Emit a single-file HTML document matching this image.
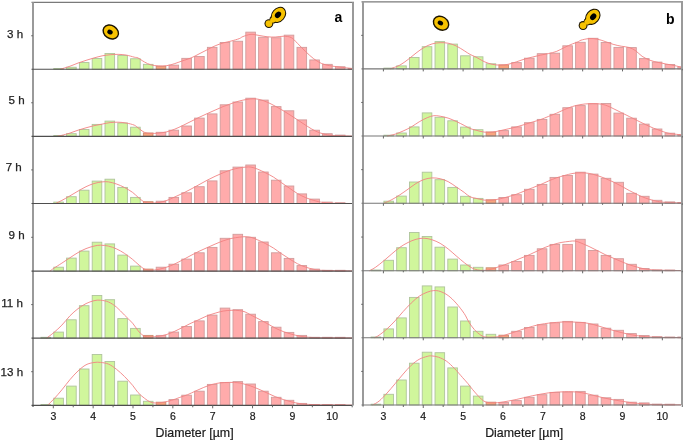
<!DOCTYPE html>
<html><head><meta charset="utf-8"><style>
html,body{margin:0;padding:0;background:#fff;}
body{width:685px;height:442px;overflow:hidden;font-family:"Liberation Sans",sans-serif;}
svg{display:block;will-change:transform;}
</style></head><body>
<svg width="685" height="442" viewBox="0 0 685 442">
<defs><clipPath id="cL"><rect x="34" y="0" width="318" height="442"/></clipPath><clipPath id="cR"><rect x="364" y="0" width="317" height="442"/></clipPath></defs>
<rect width="685" height="442" fill="#fff"/>
<line x1="31.5" y1="2.3" x2="354" y2="2.3" stroke="#7a7a7a" stroke-width="1.3"/>
<line x1="33" y1="2.3" x2="33" y2="407" stroke="#9a9a9a" stroke-width="2"/>
<line x1="353" y1="2.3" x2="353" y2="405.5" stroke="#9a9a9a" stroke-width="2"/>
<line x1="361.5" y1="1.8" x2="683" y2="1.8" stroke="#7a7a7a" stroke-width="1.3"/>
<line x1="363" y1="1.8" x2="363" y2="406.5" stroke="#9a9a9a" stroke-width="2"/>
<line x1="682" y1="1.8" x2="682" y2="405.0" stroke="#9a9a9a" stroke-width="2"/>
<rect x="53.80" y="68.45" width="9.60" height="0.80" fill="#d0f69c" stroke="#afc49c" stroke-width="0.9"/>
<rect x="66.60" y="67.25" width="9.60" height="2.00" fill="#d0f69c" stroke="#afc49c" stroke-width="0.9"/>
<rect x="79.40" y="62.55" width="9.60" height="6.70" fill="#d0f69c" stroke="#afc49c" stroke-width="0.9"/>
<rect x="92.20" y="58.55" width="9.60" height="10.70" fill="#d0f69c" stroke="#afc49c" stroke-width="0.9"/>
<rect x="105.00" y="53.45" width="9.60" height="15.80" fill="#d0f69c" stroke="#afc49c" stroke-width="0.9"/>
<rect x="117.80" y="55.55" width="9.60" height="13.70" fill="#d0f69c" stroke="#afc49c" stroke-width="0.9"/>
<rect x="130.60" y="58.75" width="9.60" height="10.50" fill="#d0f69c" stroke="#afc49c" stroke-width="0.9"/>
<rect x="143.40" y="64.35" width="9.60" height="4.90" fill="#d0f69c" stroke="#afc49c" stroke-width="0.9"/>
<rect x="156.20" y="66.25" width="9.60" height="3.00" fill="#f9a47e" stroke="#cc8c70" stroke-width="0.9"/>
<rect x="169.00" y="65.15" width="9.60" height="4.10" fill="#ffabab" stroke="#d29c9c" stroke-width="0.9"/>
<rect x="181.80" y="58.35" width="9.60" height="10.90" fill="#ffabab" stroke="#d29c9c" stroke-width="0.9"/>
<rect x="194.60" y="56.45" width="9.60" height="12.80" fill="#ffabab" stroke="#d29c9c" stroke-width="0.9"/>
<rect x="207.40" y="47.35" width="9.60" height="21.90" fill="#ffabab" stroke="#d29c9c" stroke-width="0.9"/>
<rect x="220.20" y="42.45" width="9.60" height="26.80" fill="#ffabab" stroke="#d29c9c" stroke-width="0.9"/>
<rect x="233.00" y="41.25" width="9.60" height="28.00" fill="#ffabab" stroke="#d29c9c" stroke-width="0.9"/>
<rect x="245.80" y="32.15" width="9.60" height="37.10" fill="#ffabab" stroke="#d29c9c" stroke-width="0.9"/>
<rect x="258.60" y="37.25" width="9.60" height="32.00" fill="#ffabab" stroke="#d29c9c" stroke-width="0.9"/>
<rect x="271.40" y="37.75" width="9.60" height="31.50" fill="#ffabab" stroke="#d29c9c" stroke-width="0.9"/>
<rect x="284.20" y="35.15" width="9.60" height="34.10" fill="#ffabab" stroke="#d29c9c" stroke-width="0.9"/>
<rect x="297.00" y="47.35" width="9.60" height="21.90" fill="#ffabab" stroke="#d29c9c" stroke-width="0.9"/>
<rect x="309.80" y="59.95" width="9.60" height="9.30" fill="#ffabab" stroke="#d29c9c" stroke-width="0.9"/>
<rect x="322.60" y="64.35" width="9.60" height="4.90" fill="#ffabab" stroke="#d29c9c" stroke-width="0.9"/>
<rect x="335.40" y="66.75" width="9.60" height="2.50" fill="#ffabab" stroke="#d29c9c" stroke-width="0.9"/>
<rect x="348.20" y="68.35" width="3.30" height="0.90" fill="#ffabab" stroke="#d29c9c" stroke-width="0.9"/>
<path d="M60.30,69.25 C61.90,68.75 66.95,67.28 69.90,66.25 C72.85,65.22 75.32,64.03 78.00,63.05 C80.68,62.07 83.33,61.20 86.00,60.35 C88.67,59.50 91.32,58.70 94.00,57.95 C96.68,57.20 99.42,56.38 102.10,55.85 C104.78,55.32 107.43,55.00 110.10,54.75 C112.77,54.50 115.43,54.30 118.10,54.35 C120.77,54.40 123.42,54.58 126.10,55.05 C128.78,55.52 132.22,56.67 134.20,57.15 C136.18,57.63 136.30,57.15 138.00,57.95 C139.70,58.75 142.27,60.80 144.40,61.95 C146.53,63.10 148.38,64.18 150.80,64.85 C153.22,65.52 156.22,65.82 158.90,65.95 C161.58,66.08 164.23,66.05 166.90,65.65 C169.57,65.25 172.22,64.38 174.90,63.55 C177.58,62.72 180.32,61.58 183.00,60.65 C185.68,59.72 188.33,59.07 191.00,57.95 C193.67,56.83 196.33,55.30 199.00,53.95 C201.67,52.60 204.32,51.20 207.00,49.85 C209.68,48.50 212.42,47.00 215.10,45.85 C217.78,44.70 220.43,43.75 223.10,42.95 C225.77,42.15 228.42,41.77 231.10,41.05 C233.78,40.33 237.22,39.40 239.20,38.65 C241.18,37.90 241.03,37.27 243.00,36.55 C244.97,35.83 248.32,34.53 251.00,34.35 C253.68,34.17 256.42,35.05 259.10,35.45 C261.78,35.85 264.43,36.48 267.10,36.75 C269.77,37.02 272.43,37.13 275.10,37.05 C277.77,36.97 280.42,36.17 283.10,36.25 C285.78,36.33 288.78,36.35 291.20,37.55 C293.62,38.75 295.20,41.12 297.60,43.45 C300.00,45.78 302.92,49.00 305.60,51.55 C308.28,54.10 311.02,56.75 313.70,58.75 C316.38,60.75 319.03,62.40 321.70,63.55 C324.37,64.70 326.75,65.07 329.70,65.65 C332.65,66.23 335.52,66.55 339.40,67.05 C343.28,67.55 350.73,68.38 353.00,68.65" fill="none" stroke="#f28282" stroke-width="0.9" clip-path="url(#cL)"/>
<line x1="31.5" y1="69.25" x2="352" y2="69.25" stroke="#4e4e4e" stroke-width="1.2"/>
<line x1="31.2" y1="35.77" x2="33" y2="35.77" stroke="#666" stroke-width="1"/>
<rect x="53.80" y="135.50" width="9.60" height="0.80" fill="#d0f69c" stroke="#afc49c" stroke-width="0.9"/>
<rect x="66.60" y="133.70" width="9.60" height="2.60" fill="#d0f69c" stroke="#afc49c" stroke-width="0.9"/>
<rect x="79.40" y="129.50" width="9.60" height="6.80" fill="#d0f69c" stroke="#afc49c" stroke-width="0.9"/>
<rect x="92.20" y="124.40" width="9.60" height="11.90" fill="#d0f69c" stroke="#afc49c" stroke-width="0.9"/>
<rect x="105.00" y="121.10" width="9.60" height="15.20" fill="#d0f69c" stroke="#afc49c" stroke-width="0.9"/>
<rect x="117.80" y="123.00" width="9.60" height="13.30" fill="#d0f69c" stroke="#afc49c" stroke-width="0.9"/>
<rect x="130.60" y="127.20" width="9.60" height="9.10" fill="#d0f69c" stroke="#afc49c" stroke-width="0.9"/>
<rect x="143.40" y="133.00" width="9.60" height="3.30" fill="#f9a47e" stroke="#cc8c70" stroke-width="0.9"/>
<rect x="156.20" y="132.30" width="9.60" height="4.00" fill="#ffabab" stroke="#d29c9c" stroke-width="0.9"/>
<rect x="169.00" y="130.20" width="9.60" height="6.10" fill="#ffabab" stroke="#d29c9c" stroke-width="0.9"/>
<rect x="181.80" y="126.00" width="9.60" height="10.30" fill="#ffabab" stroke="#d29c9c" stroke-width="0.9"/>
<rect x="194.60" y="118.10" width="9.60" height="18.20" fill="#ffabab" stroke="#d29c9c" stroke-width="0.9"/>
<rect x="207.40" y="113.90" width="9.60" height="22.40" fill="#ffabab" stroke="#d29c9c" stroke-width="0.9"/>
<rect x="220.20" y="104.80" width="9.60" height="31.50" fill="#ffabab" stroke="#d29c9c" stroke-width="0.9"/>
<rect x="233.00" y="102.00" width="9.60" height="34.30" fill="#ffabab" stroke="#d29c9c" stroke-width="0.9"/>
<rect x="245.80" y="98.20" width="9.60" height="38.10" fill="#ffabab" stroke="#d29c9c" stroke-width="0.9"/>
<rect x="258.60" y="100.10" width="9.60" height="36.20" fill="#ffabab" stroke="#d29c9c" stroke-width="0.9"/>
<rect x="271.40" y="106.60" width="9.60" height="29.70" fill="#ffabab" stroke="#d29c9c" stroke-width="0.9"/>
<rect x="284.20" y="110.80" width="9.60" height="25.50" fill="#ffabab" stroke="#d29c9c" stroke-width="0.9"/>
<rect x="297.00" y="119.90" width="9.60" height="16.40" fill="#ffabab" stroke="#d29c9c" stroke-width="0.9"/>
<rect x="309.80" y="130.20" width="9.60" height="6.10" fill="#ffabab" stroke="#d29c9c" stroke-width="0.9"/>
<rect x="322.60" y="133.70" width="9.60" height="2.60" fill="#ffabab" stroke="#d29c9c" stroke-width="0.9"/>
<rect x="335.40" y="135.10" width="9.60" height="1.20" fill="#ffabab" stroke="#d29c9c" stroke-width="0.9"/>
<path d="M57.10,136.30 C57.90,136.13 59.77,135.83 61.90,135.30 C64.03,134.77 67.22,133.95 69.90,133.10 C72.58,132.25 75.32,131.08 78.00,130.20 C80.68,129.32 83.33,128.55 86.00,127.80 C88.67,127.05 91.32,126.32 94.00,125.70 C96.68,125.08 99.42,124.62 102.10,124.10 C104.78,123.58 107.43,122.92 110.10,122.60 C112.77,122.28 115.43,122.13 118.10,122.20 C120.77,122.27 123.42,122.52 126.10,123.00 C128.78,123.48 132.22,124.30 134.20,125.10 C136.18,125.90 136.30,126.60 138.00,127.80 C139.70,129.00 142.27,131.37 144.40,132.30 C146.53,133.23 148.38,133.27 150.80,133.40 C153.22,133.53 156.22,133.37 158.90,133.10 C161.58,132.83 164.23,132.47 166.90,131.80 C169.57,131.13 172.22,130.17 174.90,129.10 C177.58,128.03 180.32,126.68 183.00,125.40 C185.68,124.12 188.33,122.73 191.00,121.40 C193.67,120.07 196.33,118.68 199.00,117.40 C201.67,116.12 204.32,114.92 207.00,113.70 C209.68,112.48 212.42,111.28 215.10,110.10 C217.78,108.92 220.43,107.67 223.10,106.60 C225.77,105.53 228.42,104.63 231.10,103.70 C233.78,102.77 236.55,101.72 239.20,101.00 C241.85,100.28 244.70,99.77 247.00,99.40 C249.30,99.03 250.98,98.80 253.00,98.80 C255.02,98.80 256.75,98.85 259.10,99.40 C261.45,99.95 264.43,100.98 267.10,102.10 C269.77,103.22 272.43,104.68 275.10,106.10 C277.77,107.52 280.42,109.00 283.10,110.60 C285.78,112.20 288.52,113.97 291.20,115.70 C293.88,117.43 296.53,119.25 299.20,121.00 C301.87,122.75 304.52,124.53 307.20,126.20 C309.88,127.87 312.62,129.72 315.30,131.00 C317.98,132.28 320.37,133.15 323.30,133.90 C326.23,134.65 327.95,135.13 332.90,135.50 C337.85,135.87 349.65,136.00 353.00,136.10" fill="none" stroke="#f28282" stroke-width="0.9" clip-path="url(#cL)"/>
<line x1="31.5" y1="136.3" x2="352" y2="136.3" stroke="#4e4e4e" stroke-width="1.2"/>
<line x1="31.2" y1="102.78" x2="33" y2="102.78" stroke="#666" stroke-width="1"/>
<rect x="53.80" y="202.10" width="9.60" height="1.40" fill="#d0f69c" stroke="#afc49c" stroke-width="0.9"/>
<rect x="66.60" y="196.70" width="9.60" height="6.80" fill="#d0f69c" stroke="#afc49c" stroke-width="0.9"/>
<rect x="79.40" y="190.20" width="9.60" height="13.30" fill="#d0f69c" stroke="#afc49c" stroke-width="0.9"/>
<rect x="92.20" y="181.10" width="9.60" height="22.40" fill="#d0f69c" stroke="#afc49c" stroke-width="0.9"/>
<rect x="105.00" y="179.20" width="9.60" height="24.30" fill="#d0f69c" stroke="#afc49c" stroke-width="0.9"/>
<rect x="117.80" y="187.40" width="9.60" height="16.10" fill="#d0f69c" stroke="#afc49c" stroke-width="0.9"/>
<rect x="130.60" y="197.40" width="9.60" height="6.10" fill="#d0f69c" stroke="#afc49c" stroke-width="0.9"/>
<rect x="143.40" y="201.70" width="9.60" height="1.80" fill="#f9a47e" stroke="#cc8c70" stroke-width="0.9"/>
<rect x="156.20" y="201.20" width="9.60" height="2.30" fill="#ffabab" stroke="#d29c9c" stroke-width="0.9"/>
<rect x="169.00" y="197.40" width="9.60" height="6.10" fill="#ffabab" stroke="#d29c9c" stroke-width="0.9"/>
<rect x="181.80" y="192.80" width="9.60" height="10.70" fill="#ffabab" stroke="#d29c9c" stroke-width="0.9"/>
<rect x="194.60" y="186.70" width="9.60" height="16.80" fill="#ffabab" stroke="#d29c9c" stroke-width="0.9"/>
<rect x="207.40" y="180.90" width="9.60" height="22.60" fill="#ffabab" stroke="#d29c9c" stroke-width="0.9"/>
<rect x="220.20" y="170.80" width="9.60" height="32.70" fill="#ffabab" stroke="#d29c9c" stroke-width="0.9"/>
<rect x="233.00" y="167.10" width="9.60" height="36.40" fill="#ffabab" stroke="#d29c9c" stroke-width="0.9"/>
<rect x="245.80" y="165.00" width="9.60" height="38.50" fill="#ffabab" stroke="#d29c9c" stroke-width="0.9"/>
<rect x="258.60" y="172.00" width="9.60" height="31.50" fill="#ffabab" stroke="#d29c9c" stroke-width="0.9"/>
<rect x="271.40" y="180.20" width="9.60" height="23.30" fill="#ffabab" stroke="#d29c9c" stroke-width="0.9"/>
<rect x="284.20" y="186.00" width="9.60" height="17.50" fill="#ffabab" stroke="#d29c9c" stroke-width="0.9"/>
<rect x="297.00" y="193.90" width="9.60" height="9.60" fill="#ffabab" stroke="#d29c9c" stroke-width="0.9"/>
<rect x="309.80" y="199.10" width="9.60" height="4.40" fill="#ffabab" stroke="#d29c9c" stroke-width="0.9"/>
<rect x="322.60" y="202.10" width="9.60" height="1.40" fill="#ffabab" stroke="#d29c9c" stroke-width="0.9"/>
<rect x="335.40" y="202.70" width="9.60" height="0.80" fill="#ffabab" stroke="#d29c9c" stroke-width="0.9"/>
<path d="M55.50,203.50 C56.57,202.98 59.50,201.67 61.90,200.40 C64.30,199.13 67.22,197.45 69.90,195.90 C72.58,194.35 75.32,192.63 78.00,191.10 C80.68,189.57 83.33,187.97 86.00,186.70 C88.67,185.43 91.32,184.30 94.00,183.50 C96.68,182.70 99.68,182.17 102.10,181.90 C104.52,181.63 106.10,181.55 108.50,181.90 C110.90,182.25 113.83,183.07 116.50,184.00 C119.17,184.93 121.82,186.10 124.50,187.50 C127.18,188.90 130.35,190.78 132.60,192.40 C134.85,194.02 136.03,195.60 138.00,197.20 C139.97,198.80 142.27,201.02 144.40,202.00 C146.53,202.98 148.38,203.02 150.80,203.10 C153.22,203.18 156.22,202.95 158.90,202.50 C161.58,202.05 164.23,201.33 166.90,200.40 C169.57,199.47 172.22,198.10 174.90,196.90 C177.58,195.70 180.32,194.50 183.00,193.20 C185.68,191.90 188.33,190.52 191.00,189.10 C193.67,187.68 196.33,186.17 199.00,184.70 C201.67,183.23 204.32,181.70 207.00,180.30 C209.68,178.90 212.42,177.55 215.10,176.30 C217.78,175.05 220.43,173.87 223.10,172.80 C225.77,171.73 228.42,170.72 231.10,169.90 C233.78,169.08 236.72,168.37 239.20,167.90 C241.68,167.43 244.03,167.23 246.00,167.10 C247.97,166.97 249.08,166.77 251.00,167.10 C252.92,167.43 255.08,168.15 257.50,169.10 C259.92,170.05 262.83,171.47 265.50,172.80 C268.17,174.13 270.83,175.45 273.50,177.10 C276.17,178.75 278.82,180.83 281.50,182.70 C284.18,184.57 286.92,186.48 289.60,188.30 C292.28,190.12 294.93,192.05 297.60,193.60 C300.27,195.15 302.92,196.47 305.60,197.60 C308.28,198.73 310.75,199.58 313.70,200.40 C316.65,201.22 319.57,202.02 323.30,202.50 C327.03,202.98 331.15,203.13 336.10,203.30 C341.05,203.47 350.18,203.47 353.00,203.50" fill="none" stroke="#f28282" stroke-width="0.9" clip-path="url(#cL)"/>
<line x1="31.5" y1="203.5" x2="352" y2="203.5" stroke="#4e4e4e" stroke-width="1.2"/>
<line x1="31.2" y1="169.90" x2="33" y2="169.90" stroke="#666" stroke-width="1"/>
<rect x="53.80" y="267.20" width="9.60" height="3.90" fill="#d0f69c" stroke="#afc49c" stroke-width="0.9"/>
<rect x="66.60" y="258.10" width="9.60" height="13.00" fill="#d0f69c" stroke="#afc49c" stroke-width="0.9"/>
<rect x="79.40" y="251.10" width="9.60" height="20.00" fill="#d0f69c" stroke="#afc49c" stroke-width="0.9"/>
<rect x="92.20" y="242.20" width="9.60" height="28.90" fill="#d0f69c" stroke="#afc49c" stroke-width="0.9"/>
<rect x="105.00" y="243.90" width="9.60" height="27.20" fill="#d0f69c" stroke="#afc49c" stroke-width="0.9"/>
<rect x="117.80" y="255.10" width="9.60" height="16.00" fill="#d0f69c" stroke="#afc49c" stroke-width="0.9"/>
<rect x="130.60" y="266.10" width="9.60" height="5.00" fill="#d0f69c" stroke="#afc49c" stroke-width="0.9"/>
<rect x="143.40" y="269.10" width="9.60" height="2.00" fill="#f9a47e" stroke="#cc8c70" stroke-width="0.9"/>
<rect x="156.20" y="267.20" width="9.60" height="3.90" fill="#ffabab" stroke="#d29c9c" stroke-width="0.9"/>
<rect x="169.00" y="264.20" width="9.60" height="6.90" fill="#ffabab" stroke="#d29c9c" stroke-width="0.9"/>
<rect x="181.80" y="259.10" width="9.60" height="12.00" fill="#ffabab" stroke="#d29c9c" stroke-width="0.9"/>
<rect x="194.60" y="252.80" width="9.60" height="18.30" fill="#ffabab" stroke="#d29c9c" stroke-width="0.9"/>
<rect x="207.40" y="247.40" width="9.60" height="23.70" fill="#ffabab" stroke="#d29c9c" stroke-width="0.9"/>
<rect x="220.20" y="238.30" width="9.60" height="32.80" fill="#ffabab" stroke="#d29c9c" stroke-width="0.9"/>
<rect x="233.00" y="234.30" width="9.60" height="36.80" fill="#ffabab" stroke="#d29c9c" stroke-width="0.9"/>
<rect x="245.80" y="237.30" width="9.60" height="33.80" fill="#ffabab" stroke="#d29c9c" stroke-width="0.9"/>
<rect x="258.60" y="242.00" width="9.60" height="29.10" fill="#ffabab" stroke="#d29c9c" stroke-width="0.9"/>
<rect x="271.40" y="252.80" width="9.60" height="18.30" fill="#ffabab" stroke="#d29c9c" stroke-width="0.9"/>
<rect x="284.20" y="258.40" width="9.60" height="12.70" fill="#ffabab" stroke="#d29c9c" stroke-width="0.9"/>
<rect x="297.00" y="265.60" width="9.60" height="5.50" fill="#ffabab" stroke="#d29c9c" stroke-width="0.9"/>
<rect x="309.80" y="269.10" width="9.60" height="2.00" fill="#ffabab" stroke="#d29c9c" stroke-width="0.9"/>
<rect x="322.60" y="270.30" width="9.60" height="0.80" fill="#ffabab" stroke="#d29c9c" stroke-width="0.9"/>
<rect x="335.40" y="270.30" width="9.60" height="0.80" fill="#ffabab" stroke="#d29c9c" stroke-width="0.9"/>
<path d="M49.90,271.10 C50.57,270.62 51.90,269.53 53.90,268.20 C55.90,266.87 59.23,264.83 61.90,263.10 C64.57,261.37 67.22,259.55 69.90,257.80 C72.58,256.05 75.32,254.13 78.00,252.60 C80.68,251.07 83.33,249.68 86.00,248.60 C88.67,247.52 91.60,246.67 94.00,246.10 C96.40,245.53 97.98,245.20 100.40,245.20 C102.82,245.20 105.82,245.48 108.50,246.10 C111.18,246.72 113.83,247.68 116.50,248.90 C119.17,250.12 121.82,251.65 124.50,253.40 C127.18,255.15 130.35,257.60 132.60,259.40 C134.85,261.20 136.03,262.60 138.00,264.20 C139.97,265.80 142.27,267.98 144.40,269.00 C146.53,270.02 148.38,270.25 150.80,270.30 C153.22,270.35 156.22,269.83 158.90,269.30 C161.58,268.77 164.23,268.00 166.90,267.10 C169.57,266.20 172.22,265.13 174.90,263.90 C177.58,262.67 180.32,261.12 183.00,259.70 C185.68,258.28 188.33,256.80 191.00,255.40 C193.67,254.00 196.33,252.58 199.00,251.30 C201.67,250.02 204.32,248.90 207.00,247.70 C209.68,246.50 212.42,245.23 215.10,244.10 C217.78,242.97 220.43,241.83 223.10,240.90 C225.77,239.97 228.42,239.12 231.10,238.50 C233.78,237.88 236.88,237.50 239.20,237.20 C241.52,236.90 243.03,236.68 245.00,236.70 C246.97,236.72 248.92,236.78 251.00,237.30 C253.08,237.82 255.08,238.75 257.50,239.80 C259.92,240.85 262.83,242.22 265.50,243.60 C268.17,244.98 270.83,246.42 273.50,248.10 C276.17,249.78 278.82,251.88 281.50,253.70 C284.18,255.52 286.92,257.32 289.60,259.00 C292.28,260.68 294.93,262.45 297.60,263.80 C300.27,265.15 302.92,266.18 305.60,267.10 C308.28,268.02 310.75,268.75 313.70,269.30 C316.65,269.85 316.75,270.13 323.30,270.40 C329.85,270.67 348.05,270.82 353.00,270.90" fill="none" stroke="#f28282" stroke-width="0.9" clip-path="url(#cL)"/>
<line x1="31.5" y1="271.1" x2="352" y2="271.1" stroke="#4e4e4e" stroke-width="1.2"/>
<line x1="31.2" y1="237.30" x2="33" y2="237.30" stroke="#666" stroke-width="1"/>
<rect x="41.00" y="337.30" width="9.60" height="0.80" fill="#d0f69c" stroke="#afc49c" stroke-width="0.9"/>
<rect x="53.80" y="332.10" width="9.60" height="6.00" fill="#d0f69c" stroke="#afc49c" stroke-width="0.9"/>
<rect x="66.60" y="319.80" width="9.60" height="18.30" fill="#d0f69c" stroke="#afc49c" stroke-width="0.9"/>
<rect x="79.40" y="305.70" width="9.60" height="32.40" fill="#d0f69c" stroke="#afc49c" stroke-width="0.9"/>
<rect x="92.20" y="295.50" width="9.60" height="42.60" fill="#d0f69c" stroke="#afc49c" stroke-width="0.9"/>
<rect x="105.00" y="299.70" width="9.60" height="38.40" fill="#d0f69c" stroke="#afc49c" stroke-width="0.9"/>
<rect x="117.80" y="318.60" width="9.60" height="19.50" fill="#d0f69c" stroke="#afc49c" stroke-width="0.9"/>
<rect x="130.60" y="328.40" width="9.60" height="9.70" fill="#d0f69c" stroke="#afc49c" stroke-width="0.9"/>
<rect x="143.40" y="335.40" width="9.60" height="2.70" fill="#f9a47e" stroke="#cc8c70" stroke-width="0.9"/>
<rect x="156.20" y="335.40" width="9.60" height="2.70" fill="#ffabab" stroke="#d29c9c" stroke-width="0.9"/>
<rect x="169.00" y="332.10" width="9.60" height="6.00" fill="#ffabab" stroke="#d29c9c" stroke-width="0.9"/>
<rect x="181.80" y="326.50" width="9.60" height="11.60" fill="#ffabab" stroke="#d29c9c" stroke-width="0.9"/>
<rect x="194.60" y="320.90" width="9.60" height="17.20" fill="#ffabab" stroke="#d29c9c" stroke-width="0.9"/>
<rect x="207.40" y="315.10" width="9.60" height="23.00" fill="#ffabab" stroke="#d29c9c" stroke-width="0.9"/>
<rect x="220.20" y="308.10" width="9.60" height="30.00" fill="#ffabab" stroke="#d29c9c" stroke-width="0.9"/>
<rect x="233.00" y="309.70" width="9.60" height="28.40" fill="#ffabab" stroke="#d29c9c" stroke-width="0.9"/>
<rect x="245.80" y="314.20" width="9.60" height="23.90" fill="#ffabab" stroke="#d29c9c" stroke-width="0.9"/>
<rect x="258.60" y="321.60" width="9.60" height="16.50" fill="#ffabab" stroke="#d29c9c" stroke-width="0.9"/>
<rect x="271.40" y="327.20" width="9.60" height="10.90" fill="#ffabab" stroke="#d29c9c" stroke-width="0.9"/>
<rect x="284.20" y="332.40" width="9.60" height="5.70" fill="#ffabab" stroke="#d29c9c" stroke-width="0.9"/>
<rect x="297.00" y="335.40" width="9.60" height="2.70" fill="#ffabab" stroke="#d29c9c" stroke-width="0.9"/>
<rect x="309.80" y="337.30" width="9.60" height="0.80" fill="#ffabab" stroke="#d29c9c" stroke-width="0.9"/>
<rect x="322.60" y="337.30" width="9.60" height="0.80" fill="#ffabab" stroke="#d29c9c" stroke-width="0.9"/>
<rect x="335.40" y="337.30" width="9.60" height="0.80" fill="#ffabab" stroke="#d29c9c" stroke-width="0.9"/>
<path d="M46.70,338.10 C47.90,337.17 51.37,334.67 53.90,332.50 C56.43,330.33 59.23,327.87 61.90,325.10 C64.57,322.33 67.22,318.63 69.90,315.90 C72.58,313.17 75.32,310.75 78.00,308.70 C80.68,306.65 83.33,304.93 86.00,303.60 C88.67,302.27 91.60,301.27 94.00,300.70 C96.40,300.13 97.98,299.98 100.40,300.20 C102.82,300.42 105.82,300.85 108.50,302.00 C111.18,303.15 113.83,304.92 116.50,307.10 C119.17,309.28 121.82,312.42 124.50,315.10 C127.18,317.78 130.35,320.62 132.60,323.20 C134.85,325.78 136.30,328.60 138.00,330.60 C139.70,332.60 141.20,334.17 142.80,335.20 C144.40,336.23 145.18,336.58 147.60,336.80 C150.02,337.02 154.08,336.90 157.30,336.50 C160.52,336.10 163.97,335.28 166.90,334.40 C169.83,333.52 172.22,332.40 174.90,331.20 C177.58,330.00 180.32,328.53 183.00,327.20 C185.68,325.87 188.33,324.47 191.00,323.20 C193.67,321.93 196.33,320.82 199.00,319.60 C201.67,318.38 204.32,316.97 207.00,315.90 C209.68,314.83 212.42,314.00 215.10,313.20 C217.78,312.40 220.43,311.58 223.10,311.10 C225.77,310.62 228.42,310.38 231.10,310.30 C233.78,310.22 236.88,310.33 239.20,310.60 C241.52,310.87 243.03,311.15 245.00,311.90 C246.97,312.65 248.65,313.88 251.00,315.10 C253.35,316.32 256.42,317.80 259.10,319.20 C261.78,320.60 264.43,322.03 267.10,323.50 C269.77,324.97 272.43,326.67 275.10,328.00 C277.77,329.33 280.42,330.48 283.10,331.50 C285.78,332.52 288.52,333.35 291.20,334.10 C293.88,334.85 296.53,335.50 299.20,336.00 C301.87,336.50 303.72,336.80 307.20,337.10 C310.68,337.40 312.47,337.67 320.10,337.80 C327.73,337.93 347.52,337.88 353.00,337.90" fill="none" stroke="#f28282" stroke-width="0.9" clip-path="url(#cL)"/>
<line x1="31.5" y1="338.1" x2="352" y2="338.1" stroke="#4e4e4e" stroke-width="1.2"/>
<line x1="31.2" y1="304.60" x2="33" y2="304.60" stroke="#666" stroke-width="1"/>
<rect x="41.00" y="404.50" width="9.60" height="0.80" fill="#d0f69c" stroke="#afc49c" stroke-width="0.9"/>
<rect x="53.80" y="398.20" width="9.60" height="7.10" fill="#d0f69c" stroke="#afc49c" stroke-width="0.9"/>
<rect x="66.60" y="386.10" width="9.60" height="19.20" fill="#d0f69c" stroke="#afc49c" stroke-width="0.9"/>
<rect x="79.40" y="369.00" width="9.60" height="36.30" fill="#d0f69c" stroke="#afc49c" stroke-width="0.9"/>
<rect x="92.20" y="354.50" width="9.60" height="50.80" fill="#d0f69c" stroke="#afc49c" stroke-width="0.9"/>
<rect x="105.00" y="361.50" width="9.60" height="43.80" fill="#d0f69c" stroke="#afc49c" stroke-width="0.9"/>
<rect x="117.80" y="381.20" width="9.60" height="24.10" fill="#d0f69c" stroke="#afc49c" stroke-width="0.9"/>
<rect x="130.60" y="395.00" width="9.60" height="10.30" fill="#d0f69c" stroke="#afc49c" stroke-width="0.9"/>
<rect x="143.40" y="401.30" width="9.60" height="4.00" fill="#d0f69c" stroke="#afc49c" stroke-width="0.9"/>
<rect x="156.20" y="402.20" width="9.60" height="3.10" fill="#f9a47e" stroke="#cc8c70" stroke-width="0.9"/>
<rect x="169.00" y="399.60" width="9.60" height="5.70" fill="#ffabab" stroke="#d29c9c" stroke-width="0.9"/>
<rect x="181.80" y="395.20" width="9.60" height="10.10" fill="#ffabab" stroke="#d29c9c" stroke-width="0.9"/>
<rect x="194.60" y="391.20" width="9.60" height="14.10" fill="#ffabab" stroke="#d29c9c" stroke-width="0.9"/>
<rect x="207.40" y="384.40" width="9.60" height="20.90" fill="#ffabab" stroke="#d29c9c" stroke-width="0.9"/>
<rect x="220.20" y="382.60" width="9.60" height="22.70" fill="#ffabab" stroke="#d29c9c" stroke-width="0.9"/>
<rect x="233.00" y="381.60" width="9.60" height="23.70" fill="#ffabab" stroke="#d29c9c" stroke-width="0.9"/>
<rect x="245.80" y="384.00" width="9.60" height="21.30" fill="#ffabab" stroke="#d29c9c" stroke-width="0.9"/>
<rect x="258.60" y="391.20" width="9.60" height="14.10" fill="#ffabab" stroke="#d29c9c" stroke-width="0.9"/>
<rect x="271.40" y="397.30" width="9.60" height="8.00" fill="#ffabab" stroke="#d29c9c" stroke-width="0.9"/>
<rect x="284.20" y="400.30" width="9.60" height="5.00" fill="#ffabab" stroke="#d29c9c" stroke-width="0.9"/>
<rect x="297.00" y="403.40" width="9.60" height="1.90" fill="#ffabab" stroke="#d29c9c" stroke-width="0.9"/>
<rect x="309.80" y="404.50" width="9.60" height="0.80" fill="#ffabab" stroke="#d29c9c" stroke-width="0.9"/>
<rect x="322.60" y="404.50" width="9.60" height="0.80" fill="#ffabab" stroke="#d29c9c" stroke-width="0.9"/>
<rect x="335.40" y="404.50" width="9.60" height="0.80" fill="#ffabab" stroke="#d29c9c" stroke-width="0.9"/>
<path d="M47.50,405.30 C48.57,404.25 51.50,401.58 53.90,399.00 C56.30,396.42 59.23,393.02 61.90,389.80 C64.57,386.58 67.22,382.83 69.90,379.70 C72.58,376.57 75.32,373.48 78.00,371.00 C80.68,368.52 83.33,366.22 86.00,364.80 C88.67,363.38 91.60,362.90 94.00,362.50 C96.40,362.10 97.98,362.13 100.40,362.40 C102.82,362.67 105.82,362.95 108.50,364.10 C111.18,365.25 113.83,367.23 116.50,369.30 C119.17,371.37 121.82,373.83 124.50,376.50 C127.18,379.17 130.35,382.63 132.60,385.30 C134.85,387.97 136.03,390.35 138.00,392.50 C139.97,394.65 142.27,396.58 144.40,398.20 C146.53,399.82 148.65,401.40 150.80,402.20 C152.95,403.00 155.15,403.00 157.30,403.00 C159.45,403.00 161.30,402.65 163.70,402.20 C166.10,401.75 169.02,401.10 171.70,400.30 C174.38,399.50 177.12,398.35 179.80,397.40 C182.48,396.45 185.13,395.68 187.80,394.60 C190.47,393.52 193.13,392.10 195.80,390.90 C198.47,389.70 201.12,388.47 203.80,387.40 C206.48,386.33 209.22,385.25 211.90,384.50 C214.58,383.75 216.97,383.25 219.90,382.90 C222.83,382.55 226.28,382.40 229.50,382.40 C232.72,382.40 236.62,382.58 239.20,382.90 C241.78,383.22 243.03,383.77 245.00,384.30 C246.97,384.83 248.65,385.27 251.00,386.10 C253.35,386.93 256.42,388.15 259.10,389.30 C261.78,390.45 264.43,391.78 267.10,393.00 C269.77,394.22 272.43,395.52 275.10,396.60 C277.77,397.68 280.42,398.63 283.10,399.50 C285.78,400.37 288.52,401.13 291.20,401.80 C293.88,402.47 296.53,403.08 299.20,403.50 C301.87,403.92 303.18,404.07 307.20,404.30 C311.22,404.53 315.67,404.77 323.30,404.90 C330.93,405.03 348.05,405.07 353.00,405.10" fill="none" stroke="#f28282" stroke-width="0.9" clip-path="url(#cL)"/>
<line x1="31.5" y1="405.3" x2="352" y2="405.3" stroke="#4e4e4e" stroke-width="1.2"/>
<line x1="53.30" y1="405.3" x2="53.30" y2="408.3" stroke="#666" stroke-width="1"/>
<line x1="73.22" y1="405.3" x2="73.22" y2="407.3" stroke="#666" stroke-width="1"/>
<line x1="93.15" y1="405.3" x2="93.15" y2="408.3" stroke="#666" stroke-width="1"/>
<line x1="113.08" y1="405.3" x2="113.08" y2="407.3" stroke="#666" stroke-width="1"/>
<line x1="133.00" y1="405.3" x2="133.00" y2="408.3" stroke="#666" stroke-width="1"/>
<line x1="152.93" y1="405.3" x2="152.93" y2="407.3" stroke="#666" stroke-width="1"/>
<line x1="172.85" y1="405.3" x2="172.85" y2="408.3" stroke="#666" stroke-width="1"/>
<line x1="192.77" y1="405.3" x2="192.77" y2="407.3" stroke="#666" stroke-width="1"/>
<line x1="212.70" y1="405.3" x2="212.70" y2="408.3" stroke="#666" stroke-width="1"/>
<line x1="232.62" y1="405.3" x2="232.62" y2="407.3" stroke="#666" stroke-width="1"/>
<line x1="252.55" y1="405.3" x2="252.55" y2="408.3" stroke="#666" stroke-width="1"/>
<line x1="272.48" y1="405.3" x2="272.48" y2="407.3" stroke="#666" stroke-width="1"/>
<line x1="292.40" y1="405.3" x2="292.40" y2="408.3" stroke="#666" stroke-width="1"/>
<line x1="312.33" y1="405.3" x2="312.33" y2="407.3" stroke="#666" stroke-width="1"/>
<line x1="332.25" y1="405.3" x2="332.25" y2="408.3" stroke="#666" stroke-width="1"/>
<line x1="352.18" y1="405.3" x2="352.18" y2="407.3" stroke="#666" stroke-width="1"/>
<line x1="31.2" y1="371.70" x2="33" y2="371.70" stroke="#666" stroke-width="1"/>
<rect x="383.90" y="68.10" width="9.60" height="0.80" fill="#d0f69c" stroke="#afc49c" stroke-width="0.9"/>
<rect x="396.68" y="65.90" width="9.60" height="3.00" fill="#d0f69c" stroke="#afc49c" stroke-width="0.9"/>
<rect x="409.46" y="57.50" width="9.60" height="11.40" fill="#d0f69c" stroke="#afc49c" stroke-width="0.9"/>
<rect x="422.24" y="46.70" width="9.60" height="22.20" fill="#d0f69c" stroke="#afc49c" stroke-width="0.9"/>
<rect x="435.02" y="41.60" width="9.60" height="27.30" fill="#d0f69c" stroke="#afc49c" stroke-width="0.9"/>
<rect x="447.80" y="44.10" width="9.60" height="24.80" fill="#d0f69c" stroke="#afc49c" stroke-width="0.9"/>
<rect x="460.58" y="55.80" width="9.60" height="13.10" fill="#d0f69c" stroke="#afc49c" stroke-width="0.9"/>
<rect x="473.36" y="56.80" width="9.60" height="12.10" fill="#d0f69c" stroke="#afc49c" stroke-width="0.9"/>
<rect x="486.14" y="63.80" width="9.60" height="5.10" fill="#d0f69c" stroke="#afc49c" stroke-width="0.9"/>
<rect x="498.92" y="64.90" width="9.60" height="4.00" fill="#f9a47e" stroke="#cc8c70" stroke-width="0.9"/>
<rect x="511.70" y="62.60" width="9.60" height="6.30" fill="#ffabab" stroke="#d29c9c" stroke-width="0.9"/>
<rect x="524.48" y="58.20" width="9.60" height="10.70" fill="#ffabab" stroke="#d29c9c" stroke-width="0.9"/>
<rect x="537.26" y="53.70" width="9.60" height="15.20" fill="#ffabab" stroke="#d29c9c" stroke-width="0.9"/>
<rect x="550.04" y="53.20" width="9.60" height="15.70" fill="#ffabab" stroke="#d29c9c" stroke-width="0.9"/>
<rect x="562.82" y="45.80" width="9.60" height="23.10" fill="#ffabab" stroke="#d29c9c" stroke-width="0.9"/>
<rect x="575.60" y="42.30" width="9.60" height="26.60" fill="#ffabab" stroke="#d29c9c" stroke-width="0.9"/>
<rect x="588.38" y="38.30" width="9.60" height="30.60" fill="#ffabab" stroke="#d29c9c" stroke-width="0.9"/>
<rect x="601.16" y="42.50" width="9.60" height="26.40" fill="#ffabab" stroke="#d29c9c" stroke-width="0.9"/>
<rect x="613.94" y="47.40" width="9.60" height="21.50" fill="#ffabab" stroke="#d29c9c" stroke-width="0.9"/>
<rect x="626.72" y="47.60" width="9.60" height="21.30" fill="#ffabab" stroke="#d29c9c" stroke-width="0.9"/>
<rect x="639.50" y="58.60" width="9.60" height="10.30" fill="#ffabab" stroke="#d29c9c" stroke-width="0.9"/>
<rect x="652.28" y="62.10" width="9.60" height="6.80" fill="#ffabab" stroke="#d29c9c" stroke-width="0.9"/>
<rect x="665.06" y="64.50" width="9.60" height="4.40" fill="#ffabab" stroke="#d29c9c" stroke-width="0.9"/>
<rect x="677.84" y="66.90" width="2.66" height="2.00" fill="#ffabab" stroke="#d29c9c" stroke-width="0.9"/>
<path d="M390.30,68.90 C391.90,68.27 396.95,66.67 399.90,65.10 C402.85,63.53 405.32,61.50 408.00,59.50 C410.68,57.50 413.33,55.10 416.00,53.10 C418.67,51.10 421.32,49.03 424.00,47.50 C426.68,45.97 429.42,44.70 432.10,43.90 C434.78,43.10 437.43,42.82 440.10,42.70 C442.77,42.58 445.43,42.67 448.10,43.20 C450.77,43.73 453.42,44.65 456.10,45.90 C458.78,47.15 461.88,49.28 464.20,50.70 C466.52,52.12 468.03,53.33 470.00,54.40 C471.97,55.47 473.65,55.90 476.00,57.10 C478.35,58.30 481.42,60.40 484.10,61.60 C486.78,62.80 489.43,63.72 492.10,64.30 C494.77,64.88 497.43,65.10 500.10,65.10 C502.77,65.10 505.42,64.83 508.10,64.30 C510.78,63.77 513.52,62.75 516.20,61.90 C518.88,61.05 521.53,60.00 524.20,59.20 C526.87,58.40 529.52,57.77 532.20,57.10 C534.88,56.43 537.62,55.78 540.30,55.20 C542.98,54.62 545.63,54.22 548.30,53.60 C550.97,52.98 553.62,52.52 556.30,51.50 C558.98,50.48 561.72,48.77 564.40,47.50 C567.08,46.23 570.13,44.83 572.40,43.90 C574.67,42.97 576.57,42.52 578.00,41.90 C579.43,41.28 579.15,40.75 581.00,40.20 C582.85,39.65 586.42,38.78 589.10,38.60 C591.78,38.42 594.43,38.62 597.10,39.10 C599.77,39.58 602.43,40.63 605.10,41.50 C607.77,42.37 610.42,43.52 613.10,44.30 C615.78,45.08 618.52,45.67 621.20,46.20 C623.88,46.73 626.80,46.75 629.20,47.50 C631.60,48.25 633.45,49.23 635.60,50.70 C637.75,52.17 639.68,54.70 642.10,56.30 C644.52,57.90 647.43,59.28 650.10,60.30 C652.77,61.32 655.43,61.78 658.10,62.40 C660.77,63.02 663.42,63.48 666.10,64.00 C668.78,64.52 671.38,64.90 674.20,65.50 C677.02,66.10 681.53,67.25 683.00,67.60" fill="none" stroke="#f28282" stroke-width="0.9" clip-path="url(#cR)"/>
<line x1="361.5" y1="68.9" x2="681" y2="68.9" stroke="#767676" stroke-width="1.1"/>
<line x1="383.40" y1="68.9" x2="383.40" y2="71.4" stroke="#666" stroke-width="1"/>
<line x1="403.32" y1="68.9" x2="403.32" y2="70.4" stroke="#666" stroke-width="1"/>
<line x1="423.25" y1="68.9" x2="423.25" y2="71.4" stroke="#666" stroke-width="1"/>
<line x1="443.17" y1="68.9" x2="443.17" y2="70.4" stroke="#666" stroke-width="1"/>
<line x1="463.10" y1="68.9" x2="463.10" y2="71.4" stroke="#666" stroke-width="1"/>
<line x1="483.02" y1="68.9" x2="483.02" y2="70.4" stroke="#666" stroke-width="1"/>
<line x1="502.95" y1="68.9" x2="502.95" y2="71.4" stroke="#666" stroke-width="1"/>
<line x1="522.88" y1="68.9" x2="522.88" y2="70.4" stroke="#666" stroke-width="1"/>
<line x1="542.80" y1="68.9" x2="542.80" y2="71.4" stroke="#666" stroke-width="1"/>
<line x1="562.73" y1="68.9" x2="562.73" y2="70.4" stroke="#666" stroke-width="1"/>
<line x1="582.65" y1="68.9" x2="582.65" y2="71.4" stroke="#666" stroke-width="1"/>
<line x1="602.58" y1="68.9" x2="602.58" y2="70.4" stroke="#666" stroke-width="1"/>
<line x1="622.50" y1="68.9" x2="622.50" y2="71.4" stroke="#666" stroke-width="1"/>
<line x1="642.42" y1="68.9" x2="642.42" y2="70.4" stroke="#666" stroke-width="1"/>
<line x1="662.35" y1="68.9" x2="662.35" y2="71.4" stroke="#666" stroke-width="1"/>
<line x1="682.27" y1="68.9" x2="682.27" y2="70.4" stroke="#666" stroke-width="1"/>
<line x1="361.2" y1="35.35" x2="363" y2="35.35" stroke="#666" stroke-width="1"/>
<rect x="383.90" y="135.20" width="9.60" height="0.80" fill="#d0f69c" stroke="#afc49c" stroke-width="0.9"/>
<rect x="396.68" y="133.00" width="9.60" height="3.00" fill="#d0f69c" stroke="#afc49c" stroke-width="0.9"/>
<rect x="409.46" y="126.90" width="9.60" height="9.10" fill="#d0f69c" stroke="#afc49c" stroke-width="0.9"/>
<rect x="422.24" y="112.90" width="9.60" height="23.10" fill="#d0f69c" stroke="#afc49c" stroke-width="0.9"/>
<rect x="435.02" y="117.30" width="9.60" height="18.70" fill="#d0f69c" stroke="#afc49c" stroke-width="0.9"/>
<rect x="447.80" y="120.80" width="9.60" height="15.20" fill="#d0f69c" stroke="#afc49c" stroke-width="0.9"/>
<rect x="460.58" y="127.10" width="9.60" height="8.90" fill="#d0f69c" stroke="#afc49c" stroke-width="0.9"/>
<rect x="473.36" y="129.70" width="9.60" height="6.30" fill="#d0f69c" stroke="#afc49c" stroke-width="0.9"/>
<rect x="486.14" y="132.00" width="9.60" height="4.00" fill="#f9a47e" stroke="#cc8c70" stroke-width="0.9"/>
<rect x="498.92" y="130.60" width="9.60" height="5.40" fill="#ffabab" stroke="#d29c9c" stroke-width="0.9"/>
<rect x="511.70" y="126.90" width="9.60" height="9.10" fill="#ffabab" stroke="#d29c9c" stroke-width="0.9"/>
<rect x="524.48" y="122.70" width="9.60" height="13.30" fill="#ffabab" stroke="#d29c9c" stroke-width="0.9"/>
<rect x="537.26" y="119.40" width="9.60" height="16.60" fill="#ffabab" stroke="#d29c9c" stroke-width="0.9"/>
<rect x="550.04" y="114.30" width="9.60" height="21.70" fill="#ffabab" stroke="#d29c9c" stroke-width="0.9"/>
<rect x="562.82" y="107.70" width="9.60" height="28.30" fill="#ffabab" stroke="#d29c9c" stroke-width="0.9"/>
<rect x="575.60" y="105.60" width="9.60" height="30.40" fill="#ffabab" stroke="#d29c9c" stroke-width="0.9"/>
<rect x="588.38" y="103.80" width="9.60" height="32.20" fill="#ffabab" stroke="#d29c9c" stroke-width="0.9"/>
<rect x="601.16" y="103.50" width="9.60" height="32.50" fill="#ffabab" stroke="#d29c9c" stroke-width="0.9"/>
<rect x="613.94" y="113.10" width="9.60" height="22.90" fill="#ffabab" stroke="#d29c9c" stroke-width="0.9"/>
<rect x="626.72" y="118.20" width="9.60" height="17.80" fill="#ffabab" stroke="#d29c9c" stroke-width="0.9"/>
<rect x="639.50" y="124.10" width="9.60" height="11.90" fill="#ffabab" stroke="#d29c9c" stroke-width="0.9"/>
<rect x="652.28" y="129.00" width="9.60" height="7.00" fill="#ffabab" stroke="#d29c9c" stroke-width="0.9"/>
<rect x="665.06" y="133.20" width="9.60" height="2.80" fill="#ffabab" stroke="#d29c9c" stroke-width="0.9"/>
<rect x="677.84" y="134.60" width="2.66" height="1.40" fill="#ffabab" stroke="#d29c9c" stroke-width="0.9"/>
<path d="M387.10,136.00 C388.43,135.70 392.43,135.03 395.10,134.20 C397.77,133.37 400.42,132.20 403.10,131.00 C405.78,129.80 408.52,128.53 411.20,127.00 C413.88,125.47 416.53,123.35 419.20,121.80 C421.87,120.25 424.78,118.72 427.20,117.70 C429.62,116.68 431.55,115.95 433.70,115.70 C435.85,115.45 437.70,115.80 440.10,116.20 C442.50,116.60 445.43,117.23 448.10,118.10 C450.77,118.97 453.42,120.18 456.10,121.40 C458.78,122.62 461.88,124.22 464.20,125.40 C466.52,126.58 468.03,127.70 470.00,128.50 C471.97,129.30 473.65,129.60 476.00,130.20 C478.35,130.80 481.42,131.78 484.10,132.10 C486.78,132.42 489.43,132.33 492.10,132.10 C494.77,131.87 497.43,131.23 500.10,130.70 C502.77,130.17 505.42,129.52 508.10,128.90 C510.78,128.28 513.52,127.72 516.20,127.00 C518.88,126.28 521.53,125.42 524.20,124.60 C526.87,123.78 529.52,122.92 532.20,122.10 C534.88,121.28 537.62,120.63 540.30,119.70 C542.98,118.77 545.63,117.57 548.30,116.50 C550.97,115.43 553.62,114.45 556.30,113.30 C558.98,112.15 561.72,110.73 564.40,109.60 C567.08,108.47 569.63,107.35 572.40,106.50 C575.17,105.65 578.22,104.97 581.00,104.50 C583.78,104.03 586.42,103.83 589.10,103.70 C591.78,103.57 594.43,103.48 597.10,103.70 C599.77,103.92 602.43,104.20 605.10,105.00 C607.77,105.80 610.42,107.25 613.10,108.50 C615.78,109.75 618.52,111.17 621.20,112.50 C623.88,113.83 626.53,115.17 629.20,116.50 C631.87,117.83 634.52,119.17 637.20,120.50 C639.88,121.83 642.62,123.23 645.30,124.50 C647.98,125.77 650.63,127.02 653.30,128.10 C655.97,129.18 658.62,130.12 661.30,131.00 C663.98,131.88 665.78,132.73 669.40,133.40 C673.02,134.07 680.73,134.73 683.00,135.00" fill="none" stroke="#f28282" stroke-width="0.9" clip-path="url(#cR)"/>
<line x1="361.5" y1="136.0" x2="681" y2="136.0" stroke="#767676" stroke-width="1.1"/>
<line x1="383.40" y1="136.0" x2="383.40" y2="138.5" stroke="#666" stroke-width="1"/>
<line x1="403.32" y1="136.0" x2="403.32" y2="137.5" stroke="#666" stroke-width="1"/>
<line x1="423.25" y1="136.0" x2="423.25" y2="138.5" stroke="#666" stroke-width="1"/>
<line x1="443.17" y1="136.0" x2="443.17" y2="137.5" stroke="#666" stroke-width="1"/>
<line x1="463.10" y1="136.0" x2="463.10" y2="138.5" stroke="#666" stroke-width="1"/>
<line x1="483.02" y1="136.0" x2="483.02" y2="137.5" stroke="#666" stroke-width="1"/>
<line x1="502.95" y1="136.0" x2="502.95" y2="138.5" stroke="#666" stroke-width="1"/>
<line x1="522.88" y1="136.0" x2="522.88" y2="137.5" stroke="#666" stroke-width="1"/>
<line x1="542.80" y1="136.0" x2="542.80" y2="138.5" stroke="#666" stroke-width="1"/>
<line x1="562.73" y1="136.0" x2="562.73" y2="137.5" stroke="#666" stroke-width="1"/>
<line x1="582.65" y1="136.0" x2="582.65" y2="138.5" stroke="#666" stroke-width="1"/>
<line x1="602.58" y1="136.0" x2="602.58" y2="137.5" stroke="#666" stroke-width="1"/>
<line x1="622.50" y1="136.0" x2="622.50" y2="138.5" stroke="#666" stroke-width="1"/>
<line x1="642.42" y1="136.0" x2="642.42" y2="137.5" stroke="#666" stroke-width="1"/>
<line x1="662.35" y1="136.0" x2="662.35" y2="138.5" stroke="#666" stroke-width="1"/>
<line x1="682.27" y1="136.0" x2="682.27" y2="137.5" stroke="#666" stroke-width="1"/>
<line x1="361.2" y1="102.45" x2="363" y2="102.45" stroke="#666" stroke-width="1"/>
<rect x="383.90" y="201.20" width="9.60" height="2.10" fill="#d0f69c" stroke="#afc49c" stroke-width="0.9"/>
<rect x="396.68" y="196.10" width="9.60" height="7.20" fill="#d0f69c" stroke="#afc49c" stroke-width="0.9"/>
<rect x="409.46" y="182.00" width="9.60" height="21.30" fill="#d0f69c" stroke="#afc49c" stroke-width="0.9"/>
<rect x="422.24" y="172.20" width="9.60" height="31.10" fill="#d0f69c" stroke="#afc49c" stroke-width="0.9"/>
<rect x="435.02" y="179.70" width="9.60" height="23.60" fill="#d0f69c" stroke="#afc49c" stroke-width="0.9"/>
<rect x="447.80" y="187.40" width="9.60" height="15.90" fill="#d0f69c" stroke="#afc49c" stroke-width="0.9"/>
<rect x="460.58" y="196.30" width="9.60" height="7.00" fill="#d0f69c" stroke="#afc49c" stroke-width="0.9"/>
<rect x="473.36" y="198.40" width="9.60" height="4.90" fill="#d0f69c" stroke="#afc49c" stroke-width="0.9"/>
<rect x="486.14" y="199.80" width="9.60" height="3.50" fill="#f9a47e" stroke="#cc8c70" stroke-width="0.9"/>
<rect x="498.92" y="197.50" width="9.60" height="5.80" fill="#ffabab" stroke="#d29c9c" stroke-width="0.9"/>
<rect x="511.70" y="194.70" width="9.60" height="8.60" fill="#ffabab" stroke="#d29c9c" stroke-width="0.9"/>
<rect x="524.48" y="189.30" width="9.60" height="14.00" fill="#ffabab" stroke="#d29c9c" stroke-width="0.9"/>
<rect x="537.26" y="184.40" width="9.60" height="18.90" fill="#ffabab" stroke="#d29c9c" stroke-width="0.9"/>
<rect x="550.04" y="177.40" width="9.60" height="25.90" fill="#ffabab" stroke="#d29c9c" stroke-width="0.9"/>
<rect x="562.82" y="175.50" width="9.60" height="27.80" fill="#ffabab" stroke="#d29c9c" stroke-width="0.9"/>
<rect x="575.60" y="172.20" width="9.60" height="31.10" fill="#ffabab" stroke="#d29c9c" stroke-width="0.9"/>
<rect x="588.38" y="174.10" width="9.60" height="29.20" fill="#ffabab" stroke="#d29c9c" stroke-width="0.9"/>
<rect x="601.16" y="178.30" width="9.60" height="25.00" fill="#ffabab" stroke="#d29c9c" stroke-width="0.9"/>
<rect x="613.94" y="182.30" width="9.60" height="21.00" fill="#ffabab" stroke="#d29c9c" stroke-width="0.9"/>
<rect x="626.72" y="193.30" width="9.60" height="10.00" fill="#ffabab" stroke="#d29c9c" stroke-width="0.9"/>
<rect x="639.50" y="196.30" width="9.60" height="7.00" fill="#ffabab" stroke="#d29c9c" stroke-width="0.9"/>
<rect x="652.28" y="200.30" width="9.60" height="3.00" fill="#ffabab" stroke="#d29c9c" stroke-width="0.9"/>
<rect x="665.06" y="201.90" width="9.60" height="1.40" fill="#ffabab" stroke="#d29c9c" stroke-width="0.9"/>
<rect x="677.84" y="202.50" width="2.66" height="0.80" fill="#ffabab" stroke="#d29c9c" stroke-width="0.9"/>
<path d="M383.90,203.30 C385.23,202.68 389.23,201.02 391.90,199.60 C394.57,198.18 397.22,196.53 399.90,194.80 C402.58,193.07 405.32,191.08 408.00,189.20 C410.68,187.32 413.33,185.12 416.00,183.50 C418.67,181.88 421.32,180.43 424.00,179.50 C426.68,178.57 429.42,178.03 432.10,177.90 C434.78,177.77 437.43,178.08 440.10,178.70 C442.77,179.32 445.43,180.25 448.10,181.60 C450.77,182.95 453.42,185.00 456.10,186.80 C458.78,188.60 461.88,190.73 464.20,192.40 C466.52,194.07 468.03,195.82 470.00,196.80 C471.97,197.78 473.65,197.75 476.00,198.30 C478.35,198.85 481.42,199.80 484.10,200.10 C486.78,200.40 489.43,200.32 492.10,200.10 C494.77,199.88 497.43,199.37 500.10,198.80 C502.77,198.23 505.42,197.45 508.10,196.70 C510.78,195.95 513.52,195.23 516.20,194.30 C518.88,193.37 521.53,192.17 524.20,191.10 C526.87,190.03 529.52,188.97 532.20,187.90 C534.88,186.83 537.62,185.83 540.30,184.70 C542.98,183.57 545.63,182.23 548.30,181.10 C550.97,179.97 553.62,178.83 556.30,177.90 C558.98,176.97 561.62,176.25 564.40,175.50 C567.18,174.75 570.23,173.85 573.00,173.40 C575.77,172.95 578.32,172.80 581.00,172.80 C583.68,172.80 586.42,172.95 589.10,173.40 C591.78,173.85 594.43,174.67 597.10,175.50 C599.77,176.33 602.43,177.33 605.10,178.40 C607.77,179.47 610.42,180.63 613.10,181.90 C615.78,183.17 618.52,184.57 621.20,186.00 C623.88,187.43 626.53,189.08 629.20,190.50 C631.87,191.92 634.52,193.25 637.20,194.50 C639.88,195.75 642.62,197.02 645.30,198.00 C647.98,198.98 650.35,199.70 653.30,200.40 C656.25,201.10 658.05,201.77 663.00,202.20 C667.95,202.63 679.67,202.87 683.00,203.00" fill="none" stroke="#f28282" stroke-width="0.9" clip-path="url(#cR)"/>
<line x1="361.5" y1="203.3" x2="681" y2="203.3" stroke="#767676" stroke-width="1.1"/>
<line x1="383.40" y1="203.3" x2="383.40" y2="205.8" stroke="#666" stroke-width="1"/>
<line x1="403.32" y1="203.3" x2="403.32" y2="204.8" stroke="#666" stroke-width="1"/>
<line x1="423.25" y1="203.3" x2="423.25" y2="205.8" stroke="#666" stroke-width="1"/>
<line x1="443.17" y1="203.3" x2="443.17" y2="204.8" stroke="#666" stroke-width="1"/>
<line x1="463.10" y1="203.3" x2="463.10" y2="205.8" stroke="#666" stroke-width="1"/>
<line x1="483.02" y1="203.3" x2="483.02" y2="204.8" stroke="#666" stroke-width="1"/>
<line x1="502.95" y1="203.3" x2="502.95" y2="205.8" stroke="#666" stroke-width="1"/>
<line x1="522.88" y1="203.3" x2="522.88" y2="204.8" stroke="#666" stroke-width="1"/>
<line x1="542.80" y1="203.3" x2="542.80" y2="205.8" stroke="#666" stroke-width="1"/>
<line x1="562.73" y1="203.3" x2="562.73" y2="204.8" stroke="#666" stroke-width="1"/>
<line x1="582.65" y1="203.3" x2="582.65" y2="205.8" stroke="#666" stroke-width="1"/>
<line x1="602.58" y1="203.3" x2="602.58" y2="204.8" stroke="#666" stroke-width="1"/>
<line x1="622.50" y1="203.3" x2="622.50" y2="205.8" stroke="#666" stroke-width="1"/>
<line x1="642.42" y1="203.3" x2="642.42" y2="204.8" stroke="#666" stroke-width="1"/>
<line x1="662.35" y1="203.3" x2="662.35" y2="205.8" stroke="#666" stroke-width="1"/>
<line x1="682.27" y1="203.3" x2="682.27" y2="204.8" stroke="#666" stroke-width="1"/>
<line x1="361.2" y1="169.65" x2="363" y2="169.65" stroke="#666" stroke-width="1"/>
<rect x="371.12" y="270.00" width="9.60" height="0.80" fill="#d0f69c" stroke="#afc49c" stroke-width="0.9"/>
<rect x="383.90" y="260.30" width="9.60" height="10.50" fill="#d0f69c" stroke="#afc49c" stroke-width="0.9"/>
<rect x="396.68" y="247.70" width="9.60" height="23.10" fill="#d0f69c" stroke="#afc49c" stroke-width="0.9"/>
<rect x="409.46" y="232.50" width="9.60" height="38.30" fill="#d0f69c" stroke="#afc49c" stroke-width="0.9"/>
<rect x="422.24" y="236.50" width="9.60" height="34.30" fill="#d0f69c" stroke="#afc49c" stroke-width="0.9"/>
<rect x="435.02" y="247.20" width="9.60" height="23.60" fill="#d0f69c" stroke="#afc49c" stroke-width="0.9"/>
<rect x="447.80" y="259.10" width="9.60" height="11.70" fill="#d0f69c" stroke="#afc49c" stroke-width="0.9"/>
<rect x="460.58" y="265.00" width="9.60" height="5.80" fill="#d0f69c" stroke="#afc49c" stroke-width="0.9"/>
<rect x="473.36" y="267.30" width="9.60" height="3.50" fill="#d0f69c" stroke="#afc49c" stroke-width="0.9"/>
<rect x="486.14" y="267.80" width="9.60" height="3.00" fill="#f9a47e" stroke="#cc8c70" stroke-width="0.9"/>
<rect x="498.92" y="265.00" width="9.60" height="5.80" fill="#ffabab" stroke="#d29c9c" stroke-width="0.9"/>
<rect x="511.70" y="261.50" width="9.60" height="9.30" fill="#ffabab" stroke="#d29c9c" stroke-width="0.9"/>
<rect x="524.48" y="255.40" width="9.60" height="15.40" fill="#ffabab" stroke="#d29c9c" stroke-width="0.9"/>
<rect x="537.26" y="248.80" width="9.60" height="22.00" fill="#ffabab" stroke="#d29c9c" stroke-width="0.9"/>
<rect x="550.04" y="244.40" width="9.60" height="26.40" fill="#ffabab" stroke="#d29c9c" stroke-width="0.9"/>
<rect x="562.82" y="244.40" width="9.60" height="26.40" fill="#ffabab" stroke="#d29c9c" stroke-width="0.9"/>
<rect x="575.60" y="239.30" width="9.60" height="31.50" fill="#ffabab" stroke="#d29c9c" stroke-width="0.9"/>
<rect x="588.38" y="250.50" width="9.60" height="20.30" fill="#ffabab" stroke="#d29c9c" stroke-width="0.9"/>
<rect x="601.16" y="255.40" width="9.60" height="15.40" fill="#ffabab" stroke="#d29c9c" stroke-width="0.9"/>
<rect x="613.94" y="258.70" width="9.60" height="12.10" fill="#ffabab" stroke="#d29c9c" stroke-width="0.9"/>
<rect x="626.72" y="264.30" width="9.60" height="6.50" fill="#ffabab" stroke="#d29c9c" stroke-width="0.9"/>
<rect x="639.50" y="268.50" width="9.60" height="2.30" fill="#ffabab" stroke="#d29c9c" stroke-width="0.9"/>
<rect x="652.28" y="269.90" width="9.60" height="0.90" fill="#ffabab" stroke="#d29c9c" stroke-width="0.9"/>
<rect x="665.06" y="270.00" width="9.60" height="0.80" fill="#ffabab" stroke="#d29c9c" stroke-width="0.9"/>
<path d="M369.40,270.80 C370.47,270.18 373.38,268.78 375.80,267.10 C378.22,265.42 381.22,262.92 383.90,260.70 C386.58,258.48 389.23,256.03 391.90,253.80 C394.57,251.57 397.22,249.18 399.90,247.30 C402.58,245.42 405.32,243.83 408.00,242.50 C410.68,241.17 413.33,240.02 416.00,239.30 C418.67,238.58 421.32,238.12 424.00,238.20 C426.68,238.28 429.42,238.95 432.10,239.80 C434.78,240.65 437.43,241.78 440.10,243.30 C442.77,244.82 445.43,246.82 448.10,248.90 C450.77,250.98 453.42,253.52 456.10,255.80 C458.78,258.08 461.88,260.77 464.20,262.60 C466.52,264.43 468.30,265.73 470.00,266.80 C471.70,267.87 472.60,268.40 474.40,269.00 C476.20,269.60 478.38,270.27 480.80,270.40 C483.22,270.53 486.22,270.30 488.90,269.80 C491.58,269.30 494.23,268.25 496.90,267.40 C499.57,266.55 502.22,265.68 504.90,264.70 C507.58,263.72 510.32,262.60 513.00,261.50 C515.68,260.40 518.33,259.20 521.00,258.10 C523.67,257.00 526.32,256.07 529.00,254.90 C531.68,253.73 534.42,252.35 537.10,251.10 C539.78,249.85 542.43,248.48 545.10,247.40 C547.77,246.32 550.43,245.42 553.10,244.60 C555.77,243.78 558.42,243.03 561.10,242.50 C563.78,241.97 566.88,241.65 569.20,241.40 C571.52,241.15 573.03,240.73 575.00,241.00 C576.97,241.27 578.65,242.08 581.00,243.00 C583.35,243.92 586.42,245.25 589.10,246.50 C591.78,247.75 594.43,249.15 597.10,250.50 C599.77,251.85 602.43,253.33 605.10,254.60 C607.77,255.87 610.42,256.95 613.10,258.10 C615.78,259.25 618.52,260.40 621.20,261.50 C623.88,262.60 626.53,263.77 629.20,264.70 C631.87,265.63 634.52,266.38 637.20,267.10 C639.88,267.82 642.08,268.50 645.30,269.00 C648.52,269.50 650.22,269.83 656.50,270.10 C662.78,270.37 678.58,270.52 683.00,270.60" fill="none" stroke="#f28282" stroke-width="0.9" clip-path="url(#cR)"/>
<line x1="361.5" y1="270.8" x2="681" y2="270.8" stroke="#767676" stroke-width="1.1"/>
<line x1="383.40" y1="270.8" x2="383.40" y2="273.3" stroke="#666" stroke-width="1"/>
<line x1="403.32" y1="270.8" x2="403.32" y2="272.3" stroke="#666" stroke-width="1"/>
<line x1="423.25" y1="270.8" x2="423.25" y2="273.3" stroke="#666" stroke-width="1"/>
<line x1="443.17" y1="270.8" x2="443.17" y2="272.3" stroke="#666" stroke-width="1"/>
<line x1="463.10" y1="270.8" x2="463.10" y2="273.3" stroke="#666" stroke-width="1"/>
<line x1="483.02" y1="270.8" x2="483.02" y2="272.3" stroke="#666" stroke-width="1"/>
<line x1="502.95" y1="270.8" x2="502.95" y2="273.3" stroke="#666" stroke-width="1"/>
<line x1="522.88" y1="270.8" x2="522.88" y2="272.3" stroke="#666" stroke-width="1"/>
<line x1="542.80" y1="270.8" x2="542.80" y2="273.3" stroke="#666" stroke-width="1"/>
<line x1="562.73" y1="270.8" x2="562.73" y2="272.3" stroke="#666" stroke-width="1"/>
<line x1="582.65" y1="270.8" x2="582.65" y2="273.3" stroke="#666" stroke-width="1"/>
<line x1="602.58" y1="270.8" x2="602.58" y2="272.3" stroke="#666" stroke-width="1"/>
<line x1="622.50" y1="270.8" x2="622.50" y2="273.3" stroke="#666" stroke-width="1"/>
<line x1="642.42" y1="270.8" x2="642.42" y2="272.3" stroke="#666" stroke-width="1"/>
<line x1="662.35" y1="270.8" x2="662.35" y2="273.3" stroke="#666" stroke-width="1"/>
<line x1="682.27" y1="270.8" x2="682.27" y2="272.3" stroke="#666" stroke-width="1"/>
<line x1="361.2" y1="237.05" x2="363" y2="237.05" stroke="#666" stroke-width="1"/>
<rect x="371.12" y="337.00" width="9.60" height="0.80" fill="#d0f69c" stroke="#afc49c" stroke-width="0.9"/>
<rect x="383.90" y="328.90" width="9.60" height="8.90" fill="#d0f69c" stroke="#afc49c" stroke-width="0.9"/>
<rect x="396.68" y="317.90" width="9.60" height="19.90" fill="#d0f69c" stroke="#afc49c" stroke-width="0.9"/>
<rect x="409.46" y="297.40" width="9.60" height="40.40" fill="#d0f69c" stroke="#afc49c" stroke-width="0.9"/>
<rect x="422.24" y="285.90" width="9.60" height="51.90" fill="#d0f69c" stroke="#afc49c" stroke-width="0.9"/>
<rect x="435.02" y="286.90" width="9.60" height="50.90" fill="#d0f69c" stroke="#afc49c" stroke-width="0.9"/>
<rect x="447.80" y="307.00" width="9.60" height="30.80" fill="#d0f69c" stroke="#afc49c" stroke-width="0.9"/>
<rect x="460.58" y="321.00" width="9.60" height="16.80" fill="#d0f69c" stroke="#afc49c" stroke-width="0.9"/>
<rect x="473.36" y="331.30" width="9.60" height="6.50" fill="#d0f69c" stroke="#afc49c" stroke-width="0.9"/>
<rect x="486.14" y="334.30" width="9.60" height="3.50" fill="#d0f69c" stroke="#afc49c" stroke-width="0.9"/>
<rect x="498.92" y="335.20" width="9.60" height="2.60" fill="#f9a47e" stroke="#cc8c70" stroke-width="0.9"/>
<rect x="511.70" y="331.30" width="9.60" height="6.50" fill="#ffabab" stroke="#d29c9c" stroke-width="0.9"/>
<rect x="524.48" y="327.50" width="9.60" height="10.30" fill="#ffabab" stroke="#d29c9c" stroke-width="0.9"/>
<rect x="537.26" y="324.70" width="9.60" height="13.10" fill="#ffabab" stroke="#d29c9c" stroke-width="0.9"/>
<rect x="550.04" y="322.80" width="9.60" height="15.00" fill="#ffabab" stroke="#d29c9c" stroke-width="0.9"/>
<rect x="562.82" y="321.40" width="9.60" height="16.40" fill="#ffabab" stroke="#d29c9c" stroke-width="0.9"/>
<rect x="575.60" y="322.40" width="9.60" height="15.40" fill="#ffabab" stroke="#d29c9c" stroke-width="0.9"/>
<rect x="588.38" y="324.00" width="9.60" height="13.80" fill="#ffabab" stroke="#d29c9c" stroke-width="0.9"/>
<rect x="601.16" y="328.20" width="9.60" height="9.60" fill="#ffabab" stroke="#d29c9c" stroke-width="0.9"/>
<rect x="613.94" y="330.30" width="9.60" height="7.50" fill="#ffabab" stroke="#d29c9c" stroke-width="0.9"/>
<rect x="626.72" y="333.60" width="9.60" height="4.20" fill="#ffabab" stroke="#d29c9c" stroke-width="0.9"/>
<rect x="639.50" y="335.50" width="9.60" height="2.30" fill="#ffabab" stroke="#d29c9c" stroke-width="0.9"/>
<rect x="652.28" y="336.60" width="9.60" height="1.20" fill="#ffabab" stroke="#d29c9c" stroke-width="0.9"/>
<rect x="665.06" y="337.00" width="9.60" height="0.80" fill="#ffabab" stroke="#d29c9c" stroke-width="0.9"/>
<rect x="677.84" y="337.00" width="2.66" height="0.80" fill="#ffabab" stroke="#d29c9c" stroke-width="0.9"/>
<path d="M374.20,337.80 C375.02,337.37 376.95,336.70 379.10,335.20 C381.25,333.70 384.43,331.20 387.10,328.80 C389.77,326.40 392.43,323.67 395.10,320.80 C397.77,317.93 400.42,314.55 403.10,311.60 C405.78,308.65 408.52,305.67 411.20,303.10 C413.88,300.53 416.53,298.02 419.20,296.20 C421.87,294.38 424.78,293.13 427.20,292.20 C429.62,291.27 431.55,290.73 433.70,290.60 C435.85,290.47 437.70,290.58 440.10,291.40 C442.50,292.22 445.43,293.55 448.10,295.50 C450.77,297.45 453.42,300.10 456.10,303.10 C458.78,306.10 462.05,310.30 464.20,313.50 C466.35,316.70 467.30,319.62 469.00,322.30 C470.70,324.98 472.43,327.45 474.40,329.60 C476.37,331.75 478.92,333.97 480.80,335.20 C482.68,336.43 483.82,336.68 485.70,337.00 C487.58,337.32 489.70,337.18 492.10,337.10 C494.50,337.02 497.43,337.00 500.10,336.50 C502.77,336.00 505.42,334.93 508.10,334.10 C510.78,333.27 513.52,332.38 516.20,331.50 C518.88,330.62 521.53,329.65 524.20,328.80 C526.87,327.95 529.52,327.13 532.20,326.40 C534.88,325.67 537.62,324.93 540.30,324.40 C542.98,323.87 545.63,323.53 548.30,323.20 C550.97,322.87 553.62,322.62 556.30,322.40 C558.98,322.18 561.62,321.97 564.40,321.90 C567.18,321.83 570.23,321.92 573.00,322.00 C575.77,322.08 578.32,322.15 581.00,322.40 C583.68,322.65 586.42,322.97 589.10,323.50 C591.78,324.03 594.43,324.85 597.10,325.60 C599.77,326.35 602.43,327.20 605.10,328.00 C607.77,328.80 610.42,329.65 613.10,330.40 C615.78,331.15 618.52,331.83 621.20,332.50 C623.88,333.17 626.53,333.87 629.20,334.40 C631.87,334.93 634.52,335.33 637.20,335.70 C639.88,336.07 642.08,336.33 645.30,336.60 C648.52,336.87 650.22,337.13 656.50,337.30 C662.78,337.47 678.58,337.55 683.00,337.60" fill="none" stroke="#f28282" stroke-width="0.9" clip-path="url(#cR)"/>
<line x1="361.5" y1="337.8" x2="681" y2="337.8" stroke="#767676" stroke-width="1.1"/>
<line x1="383.40" y1="337.8" x2="383.40" y2="340.3" stroke="#666" stroke-width="1"/>
<line x1="403.32" y1="337.8" x2="403.32" y2="339.3" stroke="#666" stroke-width="1"/>
<line x1="423.25" y1="337.8" x2="423.25" y2="340.3" stroke="#666" stroke-width="1"/>
<line x1="443.17" y1="337.8" x2="443.17" y2="339.3" stroke="#666" stroke-width="1"/>
<line x1="463.10" y1="337.8" x2="463.10" y2="340.3" stroke="#666" stroke-width="1"/>
<line x1="483.02" y1="337.8" x2="483.02" y2="339.3" stroke="#666" stroke-width="1"/>
<line x1="502.95" y1="337.8" x2="502.95" y2="340.3" stroke="#666" stroke-width="1"/>
<line x1="522.88" y1="337.8" x2="522.88" y2="339.3" stroke="#666" stroke-width="1"/>
<line x1="542.80" y1="337.8" x2="542.80" y2="340.3" stroke="#666" stroke-width="1"/>
<line x1="562.73" y1="337.8" x2="562.73" y2="339.3" stroke="#666" stroke-width="1"/>
<line x1="582.65" y1="337.8" x2="582.65" y2="340.3" stroke="#666" stroke-width="1"/>
<line x1="602.58" y1="337.8" x2="602.58" y2="339.3" stroke="#666" stroke-width="1"/>
<line x1="622.50" y1="337.8" x2="622.50" y2="340.3" stroke="#666" stroke-width="1"/>
<line x1="642.42" y1="337.8" x2="642.42" y2="339.3" stroke="#666" stroke-width="1"/>
<line x1="662.35" y1="337.8" x2="662.35" y2="340.3" stroke="#666" stroke-width="1"/>
<line x1="682.27" y1="337.8" x2="682.27" y2="339.3" stroke="#666" stroke-width="1"/>
<line x1="361.2" y1="304.30" x2="363" y2="304.30" stroke="#666" stroke-width="1"/>
<rect x="371.12" y="404.20" width="9.60" height="0.80" fill="#d0f69c" stroke="#afc49c" stroke-width="0.9"/>
<rect x="383.90" y="394.30" width="9.60" height="10.70" fill="#d0f69c" stroke="#afc49c" stroke-width="0.9"/>
<rect x="396.68" y="380.00" width="9.60" height="25.00" fill="#d0f69c" stroke="#afc49c" stroke-width="0.9"/>
<rect x="409.46" y="363.20" width="9.60" height="41.80" fill="#d0f69c" stroke="#afc49c" stroke-width="0.9"/>
<rect x="422.24" y="352.20" width="9.60" height="52.80" fill="#d0f69c" stroke="#afc49c" stroke-width="0.9"/>
<rect x="435.02" y="352.70" width="9.60" height="52.30" fill="#d0f69c" stroke="#afc49c" stroke-width="0.9"/>
<rect x="447.80" y="367.90" width="9.60" height="37.10" fill="#d0f69c" stroke="#afc49c" stroke-width="0.9"/>
<rect x="460.58" y="386.10" width="9.60" height="18.90" fill="#d0f69c" stroke="#afc49c" stroke-width="0.9"/>
<rect x="473.36" y="396.10" width="9.60" height="8.90" fill="#d0f69c" stroke="#afc49c" stroke-width="0.9"/>
<rect x="486.14" y="402.20" width="9.60" height="2.80" fill="#f9a47e" stroke="#cc8c70" stroke-width="0.9"/>
<rect x="498.92" y="402.40" width="9.60" height="2.60" fill="#ffabab" stroke="#d29c9c" stroke-width="0.9"/>
<rect x="511.70" y="400.60" width="9.60" height="4.40" fill="#ffabab" stroke="#d29c9c" stroke-width="0.9"/>
<rect x="524.48" y="397.30" width="9.60" height="7.70" fill="#ffabab" stroke="#d29c9c" stroke-width="0.9"/>
<rect x="537.26" y="394.70" width="9.60" height="10.30" fill="#ffabab" stroke="#d29c9c" stroke-width="0.9"/>
<rect x="550.04" y="392.40" width="9.60" height="12.60" fill="#ffabab" stroke="#d29c9c" stroke-width="0.9"/>
<rect x="562.82" y="391.90" width="9.60" height="13.10" fill="#ffabab" stroke="#d29c9c" stroke-width="0.9"/>
<rect x="575.60" y="391.40" width="9.60" height="13.60" fill="#ffabab" stroke="#d29c9c" stroke-width="0.9"/>
<rect x="588.38" y="395.20" width="9.60" height="9.80" fill="#ffabab" stroke="#d29c9c" stroke-width="0.9"/>
<rect x="601.16" y="397.80" width="9.60" height="7.20" fill="#ffabab" stroke="#d29c9c" stroke-width="0.9"/>
<rect x="613.94" y="399.40" width="9.60" height="5.60" fill="#ffabab" stroke="#d29c9c" stroke-width="0.9"/>
<rect x="626.72" y="402.20" width="9.60" height="2.80" fill="#ffabab" stroke="#d29c9c" stroke-width="0.9"/>
<rect x="639.50" y="402.90" width="9.60" height="2.10" fill="#ffabab" stroke="#d29c9c" stroke-width="0.9"/>
<rect x="652.28" y="404.10" width="9.60" height="0.90" fill="#ffabab" stroke="#d29c9c" stroke-width="0.9"/>
<rect x="665.06" y="404.20" width="9.60" height="0.80" fill="#ffabab" stroke="#d29c9c" stroke-width="0.9"/>
<path d="M372.60,405.00 C373.68,404.35 376.68,403.10 379.10,401.10 C381.52,399.10 384.43,395.90 387.10,393.00 C389.77,390.10 392.43,386.85 395.10,383.70 C397.77,380.55 400.42,377.17 403.10,374.10 C405.78,371.03 408.52,367.77 411.20,365.30 C413.88,362.83 416.53,360.78 419.20,359.30 C421.87,357.82 425.15,356.97 427.20,356.40 C429.25,355.83 429.62,355.77 431.50,355.90 C433.38,356.03 436.00,356.32 438.50,357.20 C441.00,358.08 443.83,359.32 446.50,361.20 C449.17,363.08 451.82,365.77 454.50,368.50 C457.18,371.23 460.35,375.07 462.60,377.60 C464.85,380.13 466.37,381.75 468.00,383.70 C469.63,385.65 470.60,387.15 472.40,389.30 C474.20,391.45 476.92,394.65 478.80,396.60 C480.68,398.55 482.08,400.00 483.70,401.00 C485.32,402.00 486.62,402.30 488.50,402.60 C490.38,402.90 493.07,402.83 495.00,402.80 C496.93,402.77 497.92,402.68 500.10,402.40 C502.28,402.12 505.42,401.58 508.10,401.10 C510.78,400.62 513.52,400.07 516.20,399.50 C518.88,398.93 521.53,398.32 524.20,397.70 C526.87,397.08 529.52,396.38 532.20,395.80 C534.88,395.22 537.62,394.68 540.30,394.20 C542.98,393.72 545.63,393.25 548.30,392.90 C550.97,392.55 553.62,392.28 556.30,392.10 C558.98,391.92 561.62,391.85 564.40,391.80 C567.18,391.75 570.23,391.67 573.00,391.80 C575.77,391.93 578.32,392.20 581.00,392.60 C583.68,393.00 586.42,393.58 589.10,394.20 C591.78,394.82 594.43,395.63 597.10,396.30 C599.77,396.97 602.43,397.62 605.10,398.20 C607.77,398.78 610.42,399.32 613.10,399.80 C615.78,400.28 618.52,400.67 621.20,401.10 C623.88,401.53 626.53,402.03 629.20,402.40 C631.87,402.77 634.52,403.03 637.20,403.30 C639.88,403.57 642.08,403.78 645.30,404.00 C648.52,404.22 650.22,404.47 656.50,404.60 C662.78,404.73 678.58,404.77 683.00,404.80" fill="none" stroke="#f28282" stroke-width="0.9" clip-path="url(#cR)"/>
<line x1="361.5" y1="405.0" x2="681" y2="405.0" stroke="#767676" stroke-width="1.1"/>
<line x1="383.40" y1="405.0" x2="383.40" y2="408.0" stroke="#666" stroke-width="1"/>
<line x1="403.32" y1="405.0" x2="403.32" y2="407.0" stroke="#666" stroke-width="1"/>
<line x1="423.25" y1="405.0" x2="423.25" y2="408.0" stroke="#666" stroke-width="1"/>
<line x1="443.17" y1="405.0" x2="443.17" y2="407.0" stroke="#666" stroke-width="1"/>
<line x1="463.10" y1="405.0" x2="463.10" y2="408.0" stroke="#666" stroke-width="1"/>
<line x1="483.02" y1="405.0" x2="483.02" y2="407.0" stroke="#666" stroke-width="1"/>
<line x1="502.95" y1="405.0" x2="502.95" y2="408.0" stroke="#666" stroke-width="1"/>
<line x1="522.88" y1="405.0" x2="522.88" y2="407.0" stroke="#666" stroke-width="1"/>
<line x1="542.80" y1="405.0" x2="542.80" y2="408.0" stroke="#666" stroke-width="1"/>
<line x1="562.73" y1="405.0" x2="562.73" y2="407.0" stroke="#666" stroke-width="1"/>
<line x1="582.65" y1="405.0" x2="582.65" y2="408.0" stroke="#666" stroke-width="1"/>
<line x1="602.58" y1="405.0" x2="602.58" y2="407.0" stroke="#666" stroke-width="1"/>
<line x1="622.50" y1="405.0" x2="622.50" y2="408.0" stroke="#666" stroke-width="1"/>
<line x1="642.42" y1="405.0" x2="642.42" y2="407.0" stroke="#666" stroke-width="1"/>
<line x1="662.35" y1="405.0" x2="662.35" y2="408.0" stroke="#666" stroke-width="1"/>
<line x1="682.27" y1="405.0" x2="682.27" y2="407.0" stroke="#666" stroke-width="1"/>
<line x1="361.2" y1="371.40" x2="363" y2="371.40" stroke="#666" stroke-width="1"/>
<ellipse cx="110.8" cy="32.0" rx="8.1" ry="6.5" fill="#f7c200" stroke="#1a1200" stroke-width="1.4" transform="rotate(33 110.8 32.0)"/><ellipse cx="110.0" cy="32.1" rx="2.8" ry="2.3" fill="#000" transform="rotate(25 110.0 32.1)"/>
<ellipse cx="441.05" cy="23.2" rx="8.1" ry="6.5" fill="#f7c200" stroke="#1a1200" stroke-width="1.4" transform="rotate(33 441.05 23.2)"/><ellipse cx="440.4" cy="23.0" rx="2.8" ry="2.3" fill="#000" transform="rotate(25 440.4 23.0)"/>
<g fill="#1a1200"><circle cx="268.9" cy="23.6" r="4.425"/><ellipse cx="278.5" cy="14.9" rx="8.825000000000001" ry="6.925000000000001" transform="rotate(-50 278.5 14.9)"/><ellipse cx="273.22" cy="19.69" rx="3.2" ry="3.8249999999999997" transform="rotate(-42.2 273.22 19.69)"/></g><g fill="#f7c200"><circle cx="268.9" cy="23.6" r="3.375"/><ellipse cx="278.5" cy="14.9" rx="7.775" ry="5.875" transform="rotate(-50 278.5 14.9)"/><ellipse cx="273.22" cy="19.69" rx="3.2" ry="2.775" transform="rotate(-42.2 273.22 19.69)"/></g><ellipse cx="278.0" cy="14.85" rx="3.6" ry="2.7" fill="#000" transform="rotate(-50 278.0 14.85)"/>
<g fill="#1a1200"><circle cx="583.1" cy="25.5" r="4.425"/><ellipse cx="592.8" cy="16.8" rx="8.825000000000001" ry="6.925000000000001" transform="rotate(-50 592.8 16.8)"/><ellipse cx="587.47" cy="21.59" rx="3.2" ry="3.8249999999999997" transform="rotate(-41.9 587.47 21.59)"/></g><g fill="#f7c200"><circle cx="583.1" cy="25.5" r="3.375"/><ellipse cx="592.8" cy="16.8" rx="7.775" ry="5.875" transform="rotate(-50 592.8 16.8)"/><ellipse cx="587.47" cy="21.59" rx="3.2" ry="2.775" transform="rotate(-41.9 587.47 21.59)"/></g><ellipse cx="593.2" cy="16.75" rx="3.6" ry="2.7" fill="#000" transform="rotate(-50 593.2 16.75)"/>
<text x="23.2" y="38.1" font-family="Liberation Sans, sans-serif" font-size="11.6" text-anchor="end" fill="#1e1e1e" stroke="#1e1e1e" stroke-width="0.25">3 h</text>
<text x="24.6" y="104.3" font-family="Liberation Sans, sans-serif" font-size="11.6" text-anchor="end" fill="#1e1e1e" stroke="#1e1e1e" stroke-width="0.25">5 h</text>
<text x="21.8" y="171.2" font-family="Liberation Sans, sans-serif" font-size="11.6" text-anchor="end" fill="#1e1e1e" stroke="#1e1e1e" stroke-width="0.25">7 h</text>
<text x="24.6" y="238.9" font-family="Liberation Sans, sans-serif" font-size="11.6" text-anchor="end" fill="#1e1e1e" stroke="#1e1e1e" stroke-width="0.25">9 h</text>
<text x="23.0" y="306.6" font-family="Liberation Sans, sans-serif" font-size="11.6" text-anchor="end" fill="#1e1e1e" stroke="#1e1e1e" stroke-width="0.25">11 h</text>
<text x="23.1" y="375.9" font-family="Liberation Sans, sans-serif" font-size="11.6" text-anchor="end" fill="#1e1e1e" stroke="#1e1e1e" stroke-width="0.25">13 h</text>
<text x="53.3" y="420.4" font-family="Liberation Sans, sans-serif" font-size="10.5" text-anchor="middle" fill="#1a1a1a" stroke="#1a1a1a" stroke-width="0.2">3</text>
<text x="383.4" y="420.4" font-family="Liberation Sans, sans-serif" font-size="10.5" text-anchor="middle" fill="#1a1a1a" stroke="#1a1a1a" stroke-width="0.2">3</text>
<text x="93.2" y="420.4" font-family="Liberation Sans, sans-serif" font-size="10.5" text-anchor="middle" fill="#1a1a1a" stroke="#1a1a1a" stroke-width="0.2">4</text>
<text x="423.2" y="420.4" font-family="Liberation Sans, sans-serif" font-size="10.5" text-anchor="middle" fill="#1a1a1a" stroke="#1a1a1a" stroke-width="0.2">4</text>
<text x="133.0" y="420.4" font-family="Liberation Sans, sans-serif" font-size="10.5" text-anchor="middle" fill="#1a1a1a" stroke="#1a1a1a" stroke-width="0.2">5</text>
<text x="463.1" y="420.4" font-family="Liberation Sans, sans-serif" font-size="10.5" text-anchor="middle" fill="#1a1a1a" stroke="#1a1a1a" stroke-width="0.2">5</text>
<text x="172.9" y="420.4" font-family="Liberation Sans, sans-serif" font-size="10.5" text-anchor="middle" fill="#1a1a1a" stroke="#1a1a1a" stroke-width="0.2">6</text>
<text x="502.9" y="420.4" font-family="Liberation Sans, sans-serif" font-size="10.5" text-anchor="middle" fill="#1a1a1a" stroke="#1a1a1a" stroke-width="0.2">6</text>
<text x="212.7" y="420.4" font-family="Liberation Sans, sans-serif" font-size="10.5" text-anchor="middle" fill="#1a1a1a" stroke="#1a1a1a" stroke-width="0.2">7</text>
<text x="542.8" y="420.4" font-family="Liberation Sans, sans-serif" font-size="10.5" text-anchor="middle" fill="#1a1a1a" stroke="#1a1a1a" stroke-width="0.2">7</text>
<text x="252.6" y="420.4" font-family="Liberation Sans, sans-serif" font-size="10.5" text-anchor="middle" fill="#1a1a1a" stroke="#1a1a1a" stroke-width="0.2">8</text>
<text x="582.6" y="420.4" font-family="Liberation Sans, sans-serif" font-size="10.5" text-anchor="middle" fill="#1a1a1a" stroke="#1a1a1a" stroke-width="0.2">8</text>
<text x="292.4" y="420.4" font-family="Liberation Sans, sans-serif" font-size="10.5" text-anchor="middle" fill="#1a1a1a" stroke="#1a1a1a" stroke-width="0.2">9</text>
<text x="622.5" y="420.4" font-family="Liberation Sans, sans-serif" font-size="10.5" text-anchor="middle" fill="#1a1a1a" stroke="#1a1a1a" stroke-width="0.2">9</text>
<text x="332.2" y="420.4" font-family="Liberation Sans, sans-serif" font-size="10.5" text-anchor="middle" fill="#1a1a1a" stroke="#1a1a1a" stroke-width="0.2">10</text>
<text x="662.3" y="420.4" font-family="Liberation Sans, sans-serif" font-size="10.5" text-anchor="middle" fill="#1a1a1a" stroke="#1a1a1a" stroke-width="0.2">10</text>
<text x="194.6" y="437.2" font-family="Liberation Sans, sans-serif" font-size="12.4" text-anchor="middle" fill="#1a1a1a" stroke="#1a1a1a" stroke-width="0.2">Diameter [µm]</text>
<text x="524.2" y="437.2" font-family="Liberation Sans, sans-serif" font-size="12.4" text-anchor="middle" fill="#1a1a1a" stroke="#1a1a1a" stroke-width="0.2">Diameter [µm]</text>
<text x="338.5" y="21.7" font-family="Liberation Sans, sans-serif" font-size="14" font-weight="bold" text-anchor="middle" fill="#000">a</text>
<text x="670.3" y="23.9" font-family="Liberation Sans, sans-serif" font-size="14" font-weight="bold" text-anchor="middle" fill="#000">b</text>
</svg>
</body></html>
